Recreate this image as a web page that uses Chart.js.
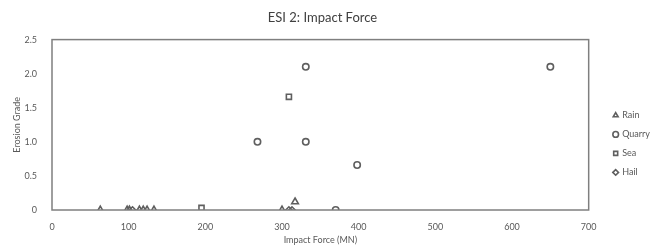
<!DOCTYPE html>
<html>
<head>
<meta charset="utf-8">
<script src="https://cdn.jsdelivr.net/npm/chart.js@4"></script>
<style>
  html, body { margin: 0; padding: 0; background: #fff; }
  #wrap { width: 665px; height: 249px; }
</style>
</head>
<body>
<div id="wrap"><canvas id="esiChart" width="665" height="249"></canvas></div>
<script>
// Impact force (MN) vs erosion grade
const rainX = [63, 98, 101, 114, 119, 124, 133, 300, 317];
const rainY = [0, 0, 0, 0, 0, 0, 0, 0, 0.12];
const quarryX = [268, 331, 331, 398, 370, 650];
const quarryY = [1, 2.1, 1, 0.66, 0, 2.1];
const seaX = [195, 309];
const seaY = [0.03, 1.66];
const hailX = [105, 309, 313];
const hailY = [0, 0, 0];

const xTicks = [0, 100, 200, 300, 400, 500, 600, 700];
const yTicks = [0, 0.5, 1, 1.5, 2, 2.5];

const toPoints = (xs, ys) => xs.map((x, i) => ({ x: x, y: ys[i] }));

const markColor = '#5f5f5f';
const textColor = '#595959';
const fontFamily = 'Lato, "Open Sans", sans-serif';

// box around the plot area, like the spreadsheet original
// (also nudges the legend a bit further right)
const plotBox = {
  id: 'plotBox',
  afterLayout(chart) {
    chart.legend.left += 15;
    chart.legend.right += 15;
  },
  afterDraw(chart) {
    const { ctx, chartArea: a } = chart;
    ctx.save();
    ctx.strokeStyle = '#7f7f7f';
    ctx.lineWidth = 1.5;
    ctx.strokeRect(a.left, a.top, a.right - a.left, a.bottom - a.top);
    ctx.restore();
  }
};

function series(label, xs, ys, style, radius) {
  return {
    label: label,
    data: toPoints(xs, ys),
    pointStyle: style,
    pointRadius: radius,
    pointHoverRadius: radius,
    borderColor: markColor,
    backgroundColor: 'rgba(0,0,0,0)',
    pointBorderWidth: 1.6,
    borderWidth: 1.4,
  };
}

const ctx = document.getElementById('esiChart').getContext('2d');

new Chart(ctx, {
  type: 'scatter',
  data: {
    datasets: [
      series('Rain', rainX, rainY, 'triangle', 3.8),
      series('Quarry', quarryX, quarryY, 'circle', 3.2),
      series('Sea', seaX, seaY, 'rect', 3.6),
      series('Hail', hailX, hailY, 'rectRot', 3.2),
    ],
  },
  options: {
    responsive: false,
    animation: false,
    layout: { padding: { top: 4, right: 20, bottom: 0, left: 0 } },
    plugins: {
      title: {
        display: true,
        text: 'ESI 2: Impact Force',
        color: '#404040',
        font: { family: fontFamily, size: 13, weight: 'normal' },
        padding: { top: 6, bottom: 14 },
      },
      legend: {
        display: true,
        position: 'right',
        title: {
          display: true,
          text: ' ',
          font: { family: fontFamily, size: 9 },
          padding: 12,
        },
        labels: {
          usePointStyle: true,
          boxWidth: 4,
          boxHeight: 4,
          padding: 10,
          color: textColor,
          font: { family: fontFamily, size: 9 },
        },
      },
      tooltip: { enabled: false },
    },
    scales: {
      x: {
        type: 'linear',
        min: 0,
        max: 700,
        afterBuildTicks: (scale) => { scale.ticks = xTicks.map(v => ({ value: v })); },
        afterFit: (scale) => { scale.height = 39; },
        grid: { display: false },
        border: { display: false },
        ticks: { color: textColor, font: { family: fontFamily, size: 9 }, padding: 4 },
        title: {
          display: true,
          text: 'Impact Force (MN)',
          color: textColor,
          font: { family: fontFamily, size: 9 },
          padding: { top: 2, bottom: 4 },
        },
      },
      y: {
        type: 'linear',
        min: 0,
        max: 2.5,
        afterBuildTicks: (scale) => { scale.ticks = yTicks.map(v => ({ value: v })); },
        afterFit: (scale) => { scale.width = 52; },
        grid: { display: false },
        border: { display: false },
        ticks: { color: textColor, font: { family: fontFamily, size: 9 }, padding: 7 },
        title: {
          display: true,
          text: 'Erosion Grade',
          color: textColor,
          font: { family: fontFamily, size: 9 },
          padding: { top: 12, bottom: 2 },
        },
      },
    },
  },
  plugins: [plotBox],
});
</script>
</body>
</html>
